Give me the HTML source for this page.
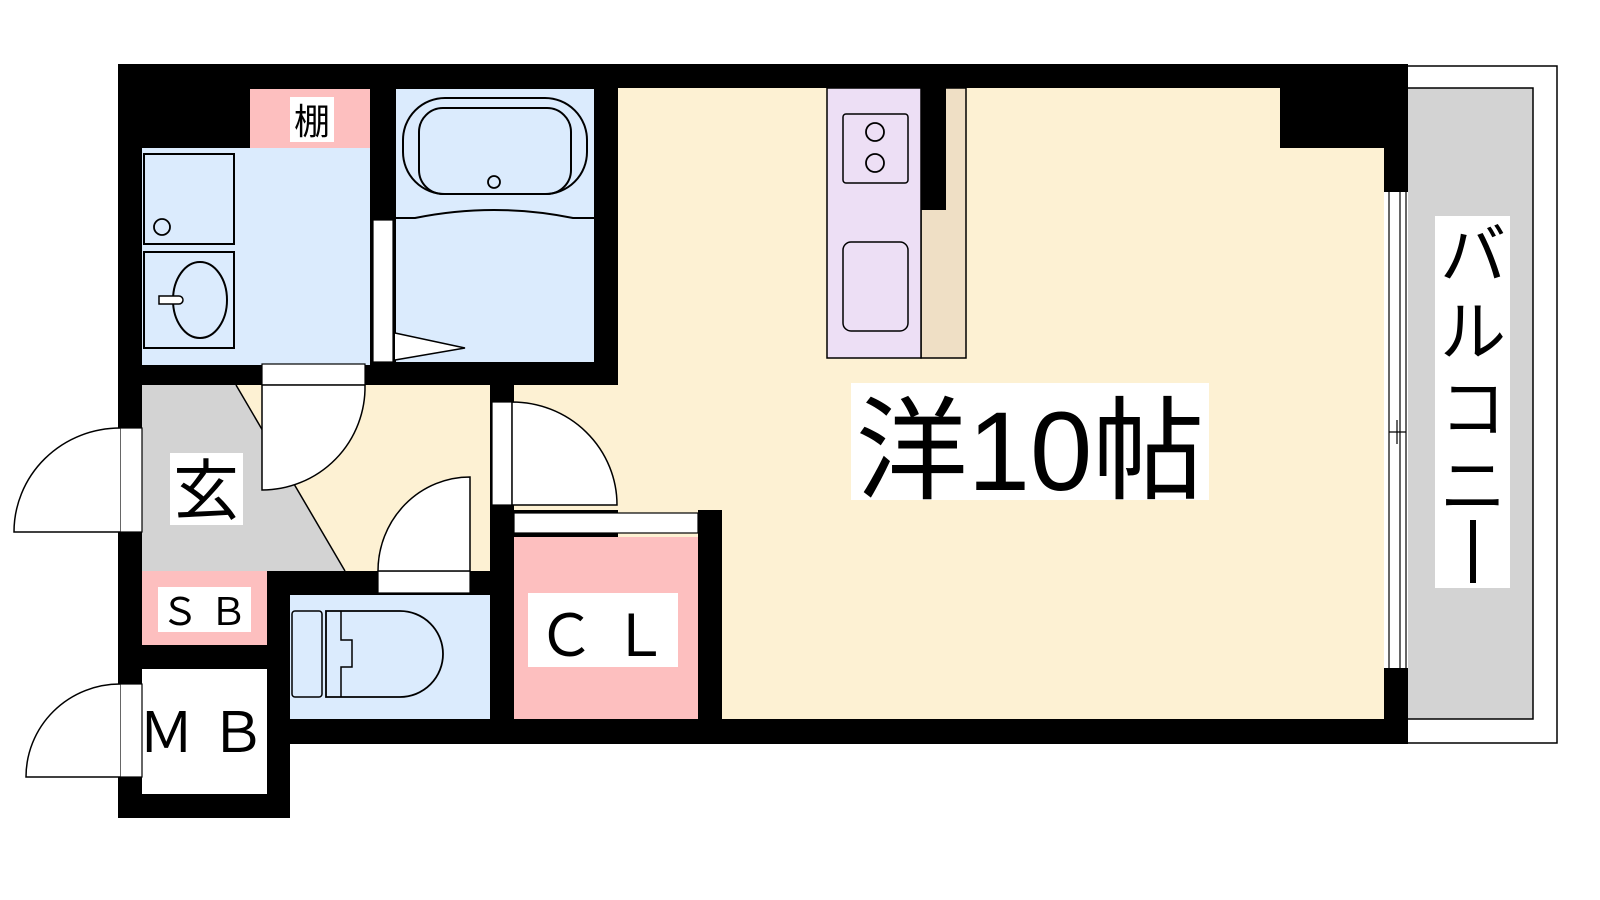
<!DOCTYPE html>
<html><head><meta charset="utf-8"><style>
html,body{margin:0;padding:0;background:#fff;width:1600px;height:900px;overflow:hidden}
text{font-family:"Liberation Sans","Noto Sans CJK JP",sans-serif}
</style></head><body>
<svg width="1600" height="900" viewBox="0 0 1600 900" xmlns="http://www.w3.org/2000/svg">
<!-- balcony -->
<rect x="1400" y="66" width="157" height="677" fill="#fff" stroke="#000" stroke-width="1.5"/>
<rect x="1400" y="88" width="133" height="631" fill="#d3d3d3" stroke="#000" stroke-width="1.5"/>
<rect x="1435" y="216" width="75" height="372" fill="#fff"/>
<text x="1473" y="278" font-size="66" text-anchor="middle">バ</text>
<text x="1473" y="355" font-size="66" text-anchor="middle">ル</text>
<text x="1473" y="432" font-size="66" text-anchor="middle">コ</text>
<text x="1473" y="509" font-size="66" text-anchor="middle">ニ</text>
<line x1="1473" y1="520" x2="1473" y2="583" stroke="#000" stroke-width="6"/>
<!-- black mass -->
<rect x="118" y="64" width="1290" height="680" fill="#000"/>
<rect x="118" y="700" width="172" height="118" fill="#000"/>
<!-- main room -->
<rect x="618" y="88" width="766" height="631" fill="#fdf1d3"/>
<rect x="514" y="385" width="120" height="125" fill="#fdf1d3"/>
<rect x="1280" y="88" width="104" height="60" fill="#000"/>
<!-- window -->
<rect x="1384" y="192" width="24" height="476" fill="#fff"/>
<line x1="1389" y1="192" x2="1389" y2="668" stroke="#000" stroke-width="1.2"/>
<line x1="1400" y1="192" x2="1400" y2="668" stroke="#000" stroke-width="1.2"/>
<line x1="1406" y1="192" x2="1406" y2="668" stroke="#000" stroke-width="1.2"/>
<line x1="1389" y1="432" x2="1406" y2="432" stroke="#000" stroke-width="1.2"/>
<line x1="1397" y1="420" x2="1397" y2="444" stroke="#000" stroke-width="1.2"/>
<!-- kitchen -->
<rect x="921" y="88" width="45" height="270" fill="#efdfc5" stroke="#000" stroke-width="1.5"/>
<rect x="921" y="88" width="25" height="122" fill="#000"/>
<rect x="827" y="88" width="94" height="270" fill="#eddff5" stroke="#000" stroke-width="1.5"/>
<rect x="843" y="114" width="65" height="69" rx="3" fill="none" stroke="#000" stroke-width="1.5"/>
<circle cx="875" cy="132" r="9" fill="none" stroke="#000" stroke-width="1.8"/>
<circle cx="875" cy="163" r="9" fill="none" stroke="#000" stroke-width="1.8"/>
<rect x="843" y="242" width="65" height="89" rx="8" fill="none" stroke="#000" stroke-width="1.5"/>
<rect x="851" y="383" width="358" height="117" fill="#fff"/>
<text x="1030" y="490" font-size="112" text-anchor="middle">洋10帖</text>
<!-- shelf -->
<rect x="250" y="89" width="120" height="59" fill="#fdbfbf"/>
<rect x="290" y="97" width="44" height="45" fill="#fff"/>
<text x="312" y="134" font-size="36" text-anchor="middle">棚</text>
<!-- washroom -->
<rect x="142" y="148" width="228" height="217" fill="#dbebfd"/>
<rect x="144" y="154" width="90" height="90" fill="none" stroke="#000" stroke-width="2"/>
<circle cx="162" cy="227" r="8" fill="none" stroke="#000" stroke-width="1.8"/>
<rect x="144" y="252" width="90" height="96" fill="none" stroke="#000" stroke-width="2"/>
<ellipse cx="200" cy="300" rx="27" ry="38" fill="none" stroke="#000" stroke-width="2"/>
<path d="M159 296 h20 a4 4 0 0 1 0 8 h-20 z" fill="#fff" stroke="#000" stroke-width="1.5"/>
<!-- bath door -->
<rect x="373" y="220" width="20" height="142" fill="#fff" stroke="#000" stroke-width="1.2"/>
<!-- bath -->
<rect x="396" y="89" width="198" height="273" fill="#dbebfd"/>
<rect x="403" y="98" width="184" height="96" rx="42" fill="none" stroke="#000" stroke-width="2"/>
<rect x="419" y="108" width="152" height="86" rx="24" fill="none" stroke="#000" stroke-width="2"/>
<circle cx="494" cy="182" r="6" fill="none" stroke="#000" stroke-width="1.8"/>
<path d="M396 218 L415 218 Q494 202 573 218 L594 218" fill="none" stroke="#000" stroke-width="2"/>
<path d="M395 333 L465 348 L395 360" fill="#fff" stroke="#000" stroke-width="1.5"/>
<!-- genkan / hallway -->
<rect x="142" y="385" width="348" height="186" fill="#fdf1d3"/>
<polygon points="142,385 236,385 345,571 142,571" fill="#d3d3d3"/>
<line x1="236" y1="385" x2="345" y2="571" stroke="#000" stroke-width="1.5"/>
<rect x="170" y="453" width="73" height="72" fill="#fff"/>
<text x="206" y="514" font-size="66" text-anchor="middle">玄</text>
<!-- washroom door -->
<rect x="262" y="364" width="103" height="21" fill="#fff" stroke="#000" stroke-width="1.2"/>
<path d="M262 385 L262 490 A103 103 0 0 0 365 385 Z" fill="#fff" stroke="#000" stroke-width="1.5"/>
<!-- main room door -->
<rect x="492" y="402" width="20" height="103" fill="#fff" stroke="#000" stroke-width="1.2"/>
<path d="M512 402 L512 505 L617 505 A105 103 0 0 0 512 402 Z" fill="#fff" stroke="#000" stroke-width="1.5"/>
<!-- CL -->
<rect x="698" y="510" width="24" height="234" fill="#000"/>
<rect x="514" y="513" width="184" height="20" fill="#fff" stroke="#000" stroke-width="1.2"/>
<rect x="514" y="537" width="184" height="182" fill="#fdbfbf"/>
<rect x="528" y="593" width="150" height="74" fill="#fff"/>
<text x="603" y="656" font-size="58" text-anchor="middle">Ｃ Ｌ</text>
<!-- toilet -->
<rect x="290" y="595" width="200" height="124" fill="#dbebfd"/>
<rect x="292" y="611" width="30" height="86" rx="3" fill="none" stroke="#000" stroke-width="1.5"/>
<path d="M326 611 L400 611 A43 43 0 0 1 443 654 A43 43 0 0 1 400 697 L326 697 Z" fill="none" stroke="#000" stroke-width="1.8"/>
<path d="M341 611 V640 H352 V667 H341 V697" fill="none" stroke="#000" stroke-width="1.5"/>
<rect x="378" y="571" width="92" height="22" fill="#fff" stroke="#000" stroke-width="1.2"/>
<path d="M470 571 L470 477 A92 94 0 0 0 378 571 Z" fill="#fff" stroke="#000" stroke-width="1.5"/>
<!-- SB / MB -->
<rect x="142" y="571" width="125" height="74" fill="#fdbfbf"/>
<rect x="158" y="587" width="93" height="45" fill="#fff"/>
<text x="204" y="625" font-size="38" text-anchor="middle">Ｓ Ｂ</text>
<rect x="142" y="669" width="125" height="125" fill="#fff"/>
<text x="202" y="752" font-size="56" text-anchor="middle">Ｍ Ｂ</text>
<!-- entrance door -->
<rect x="120" y="428" width="22" height="104" fill="#fff" stroke="#000" stroke-width="1.2"/>
<path d="M120 428 A106 104 0 0 0 14 532 L120 532" fill="#fff" stroke="#000" stroke-width="1.5"/>
<!-- MB door -->
<rect x="120" y="684" width="22" height="93" fill="#fff" stroke="#000" stroke-width="1.2"/>
<path d="M120 684 A94 93 0 0 0 26 777 L120 777" fill="#fff" stroke="#000" stroke-width="1.5"/>
</svg>
</body></html>
